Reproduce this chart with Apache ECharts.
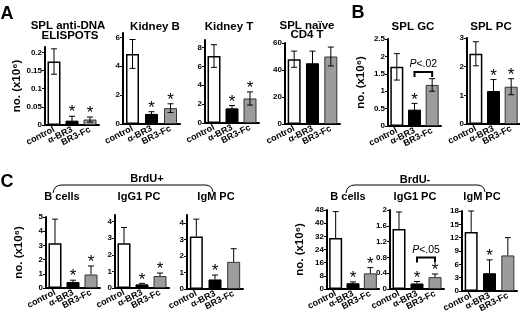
<!DOCTYPE html>
<html>
<head>
<meta charset="utf-8">
<script src="https://cdn.jsdelivr.net/npm/echarts@6/dist/echarts.min.js"></script>
<style>
html,body{margin:0;padding:0;background:#fff;}
#chart{width:520px;height:317px;}
</style>
</head>
<body>
<div id="chart"></div>
<script>
// groups on every x axis
var categories = ['control', 'α-BR3', 'BR3-Fc'];

// A
var elispotMean = [0.175, 0.012, 0.015];
var elispotSd = [0.035, 0.012, 0.007];
var kidneyBMean = [4.85, 0.7, 1.1];
var kidneyBSd = [1.0, 0.15, 0.3];
var kidneyTMean = [7.1, 1.55, 2.6];
var kidneyTSd = [1.2, 0.3, 0.7];
var naiveCd4Mean = [48, 45, 50];
var naiveCd4Sd = [6, 9, 7];
// B
var splGcMean = [1.7, 0.47, 1.18];
var splGcSd = [0.38, 0.18, 0.18];
var splPcMean = [2.45, 1.15, 1.3];
var splPcSd = [0.42, 0.4, 0.28];
// C, BrdU+
var bPlusMean = [3.15, 0.42, 0.95];
var bPlusSd = [1.7, 0.13, 0.6];
var igg1PlusMean = [2.7, 0.22, 0.72];
var igg1PlusSd = [0.95, 0.06, 0.18];
var igmPlusMean = [3.2, 0.58, 1.65];
var igmPlusSd = [1.05, 0.27, 0.8];
// C, BrdU-
var bMinusMean = [31, 3.5, 9.5];
var bMinusSd = [16, 0.8, 3.5];
var igg1MinusMean = [1.52, 0.14, 0.3];
var igg1MinusSd = [0.43, 0.05, 0.08];
var igmMinusMean = [13.3, 4, 8];
var igmMinusSd = [4.7, 3, 4];

// significance stars (1 = star over the bar)
var starsA = [[0, 1, 1], [0, 1, 1], [0, 1, 1], [0, 0, 0]];
var starsB = [[0, 1, 0], [0, 1, 1]];
var starsC = [[0, 1, 1], [0, 1, 1], [0, 1, 0], [0, 1, 1], [0, 1, 1], [0, 1, 0]];

// p value brackets: [panel, from, to, level, text]
var pBrackets = [[4, 1, 2, 1.55, '<.02'], [10, 1, 2, 0.8, '<.05']];

var yName = 'no. (x10\u2076)';

var panels = [
  {mean: elispotMean, sd: elispotSd, stars: starsA[0], left: 45, top: 47, width: 54, height: 78, max: 0.215, interval: 0.05, name: yName},
  {mean: kidneyBMean, sd: kidneyBSd, stars: starsA[1], left: 123, top: 33, width: 57, height: 91, max: 6.3, interval: 2},
  {mean: kidneyTMean, sd: kidneyTSd, stars: starsA[2], left: 205, top: 40, width: 54, height: 83, max: 8.8, interval: 2},
  {mean: naiveCd4Mean, sd: naiveCd4Sd, stars: starsA[3], left: 285, top: 43, width: 55, height: 81, max: 60, interval: 20},
  {mean: splGcMean, sd: splGcSd, stars: starsB[0], left: 388, top: 39, width: 53, height: 87, max: 2.5, interval: 0.5, name: yName},
  {mean: splPcMean, sd: splPcSd, stars: starsB[1], left: 467, top: 38, width: 53, height: 86, max: 3, interval: 1},
  {mean: bPlusMean, sd: bPlusSd, stars: starsC[0], left: 46, top: 217, width: 54, height: 71, max: 5, interval: 1, name: yName, up: true},
  {mean: igg1PlusMean, sd: igg1PlusSd, stars: starsC[1], left: 115, top: 215, width: 54, height: 73, max: 4.4, interval: 1, up: true},
  {mean: igmPlusMean, sd: igmPlusSd, stars: starsC[2], left: 187, top: 215, width: 56, height: 74, max: 4.5, interval: 1, up: true},
  {mean: bMinusMean, sd: bMinusSd, stars: starsC[3], left: 327, top: 210, width: 52, height: 79, max: 48, interval: 8, name: yName, up: true},
  {mean: igg1MinusMean, sd: igg1MinusSd, stars: starsC[4], left: 390, top: 210, width: 54, height: 79, max: 2, interval: 0.4, up: true},
  {mean: igmMinusMean, sd: igmMinusSd, stars: starsC[5], left: 462, top: 211, width: 55, height: 80, max: 18, interval: 3, up: true}
];

var barStyles = [
  {color: '#fff', borderColor: '#000', borderWidth: 1.5},
  {color: '#000', borderColor: '#000', borderWidth: 1},
  {color: '#9c9c9c', borderColor: '#333', borderWidth: 1}
];

var font = 'Liberation Sans, Arial, sans-serif';

function isTick(max, step) {
  var r = max / step;
  return Math.abs(r - Math.round(r)) < 1e-6;
}

var grids = [], xAxes = [], yAxes = [], series = [];
panels.forEach(function (p, i) {
  grids.push({left: p.left, top: p.top, width: p.width, height: p.height});
  xAxes.push({
    type: 'category', gridIndex: i, data: categories,
    axisLine: {lineStyle: {color: '#000', width: 2}},
    axisTick: {show: false},
    axisLabel: {rotate: 27, interval: 0, fontSize: 9, fontWeight: 'bold', color: '#000', margin: 4, fontFamily: font}
  });
  yAxes.push({
    type: 'value', gridIndex: i, min: 0, max: p.max, interval: p.interval,
    splitLine: {show: false},
    axisLine: {show: true, lineStyle: {color: '#000', width: 2}},
    axisTick: {show: true, length: 3, lineStyle: {color: '#000'}},
    axisLabel: {fontSize: 8, fontWeight: 'bold', color: '#000', margin: 3, fontFamily: font, showMaxLabel: isTick(p.max, p.interval)},
    name: p.name || '', nameLocation: 'middle', nameGap: 21,
    nameTextStyle: {fontWeight: 'bold', fontSize: 11.5, color: '#000', fontFamily: font}
  });
  series.push({
    type: 'bar', xAxisIndex: i, yAxisIndex: i, barWidth: 13, silent: true,
    data: p.mean.map(function (v, j) { return {value: v, itemStyle: barStyles[j]}; })
  });
  var up = !!p.up;
  series.push({
    type: 'custom', xAxisIndex: i, yAxisIndex: i, silent: true, z: 5,
    data: p.mean.map(function (v, j) { return [j, v, p.sd[j], p.stars[j]]; }),
    renderItem: function (params, api) {
      var x = api.value(0), m = api.value(1), s = api.value(2), star = api.value(3);
      var top = api.coord([x, m + s]);
      var bot = api.coord([x, up ? m : Math.max(m - s, 0)]);
      var cx = top[0];
      var kids = [
        {type: 'line', shape: {x1: cx, y1: top[1], x2: cx, y2: bot[1]}, style: {stroke: '#000', lineWidth: 1}},
        {type: 'line', shape: {x1: cx - 3, y1: top[1], x2: cx + 3, y2: top[1]}, style: {stroke: '#000', lineWidth: 1}}
      ];
      if (!up) kids.push({type: 'line', shape: {x1: cx - 3, y1: bot[1], x2: cx + 3, y2: bot[1]}, style: {stroke: '#000', lineWidth: 1}});
      if (star) kids.push({type: 'text', style: {text: '*', x: cx, y: top[1] + 5, align: 'center', verticalAlign: 'bottom', fontSize: 17, fontFamily: font, fill: '#000'}});
      return {type: 'group', children: kids};
    }
  });
});

pBrackets.forEach(function (b) {
  var i = b[0];
  series.push({
    type: 'custom', xAxisIndex: i, yAxisIndex: i, silent: true, z: 6,
    data: [[b[1], b[2], b[3]]],
    renderItem: function (params, api) {
      var p1 = api.coord([api.value(0), api.value(2)]);
      var p2 = api.coord([api.value(1), api.value(2)]);
      return {type: 'group', children: [
        {type: 'polyline', shape: {points: [[p1[0], p1[1] + 5], [p1[0], p1[1]], [p2[0], p2[1]], [p2[0], p2[1] + 5]]}, style: {stroke: '#000', lineWidth: 2, fill: null}},
        {type: 'text', style: {text: '{i|P}' + b[4], rich: {i: {fontStyle: 'italic', fontSize: 10.5, fontFamily: font}}, x: (p1[0] + p2[0]) / 2, y: p1[1] - 2, align: 'center', verticalAlign: 'bottom', fontSize: 10.5, fontFamily: font, fill: '#000'}}
      ]};
    }
  });
});

function label(text, x, y, size) {
  return {type: 'text', x: x, y: y, silent: true,
    style: {text: text, align: 'center', verticalAlign: 'middle', fontSize: size || 11, fontWeight: 'bold', fontFamily: font, fill: '#000'}};
}

function brace(x1, x2, y, drop) {
  var st = {stroke: '#000', lineWidth: 1, fill: null};
  return [
    {type: 'bezierCurve', silent: true, shape: {x1: x1, y1: y + drop, x2: x1 + 9, y2: y, cpx1: x1 + 1, cpy1: y}, style: st},
    {type: 'line', silent: true, shape: {x1: x1 + 9, y1: y, x2: x2 - 8, y2: y}, style: st},
    {type: 'bezierCurve', silent: true, shape: {x1: x2 - 8, y1: y, x2: x2, y2: y + drop - 1, cpx1: x2 - 1, cpy1: y}, style: st}
  ];
}

var graphics = [
  label('A', 7, 14, 18), label('B', 358, 13, 18), label('C', 7, 182, 18),
  label('SPL anti-DNA', 68, 26, 11.5), label('ELISPOTS', 70, 36, 11.5),
  label('Kidney B', 155, 27, 11.5), label('Kidney T', 229, 27, 11.5),
  label('SPL naïve', 307, 26, 11.5), label('CD4 T', 307, 35, 11.5),
  label('SPL GC', 413, 27, 11.5), label('SPL PC', 491, 27, 11.5),
  label('BrdU+', 147, 179), label('BrdU-', 415, 180),
  label('B cells', 62, 197), label('IgG1 PC', 139, 197), label('IgM PC', 216, 197),
  label('B cells', 348, 197), label('IgG1 PC', 415, 197), label('IgM PC', 482, 197)
].concat(brace(53, 213, 185, 8), brace(346, 485, 185, 8));

var chart = echarts.init(document.getElementById('chart'), null, {renderer: 'canvas'});
chart.setOption({
  animation: false,
  backgroundColor: '#fff',
  grid: grids,
  xAxis: xAxes,
  yAxis: yAxes,
  series: series,
  graphic: graphics
});
</script>
</body>
</html>
